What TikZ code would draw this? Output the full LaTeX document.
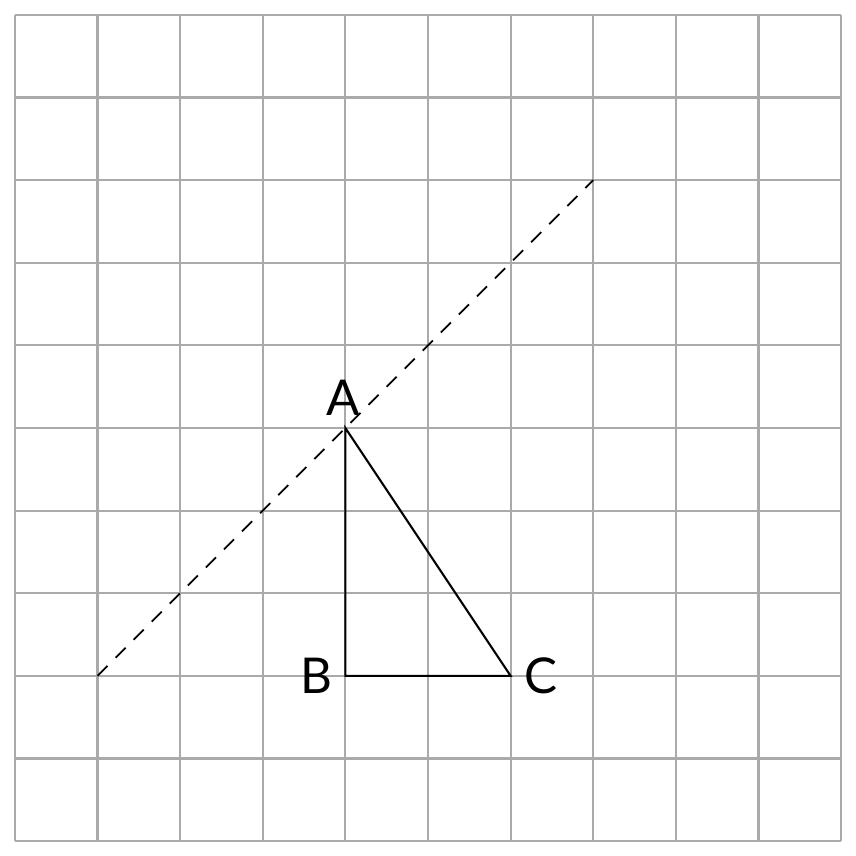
\documentclass[tikz,border=0pt]{standalone}
\usepackage{fontspec}
\setmainfont{Lato}
\usetikzlibrary{positioning}
\definecolor{gridgray}{RGB}{170,170,170}

\begin{document}
\begin{tikzpicture}[
    gridline/.style={draw=gridgray,line width=0.7pt},
    side/.style={draw=black,line width=0.7pt},
    guide/.style={draw=black,line width=0.65pt,dash pattern=on 4.9pt off 3.9pt},
    lbl/.style={font=\fontsize{17}{20}\selectfont,inner sep=1pt}
  ]
    \useasboundingbox (-0.18,-0.18) rectangle (10.18,10.18);
    \draw[gridline] (0,0) grid (10,10);
    % points
    \coordinate (A) at (4,5);
    \coordinate (B) at (4,2);
    \coordinate (C) at (6,2);
    \coordinate (P) at (1,2);
    \coordinate (Q) at (7,8);
    % dashed line through A
    \draw[guide] (P) -- (Q);
    % triangle
    \draw[side] (A) -- (B) -- (C) -- cycle;
    \node[lbl] (labA) at (3.97,5.36) {A};
    \node[lbl,left=0.12 of B] (labB) {B};
    \node[lbl,right=0.12 of C] (labC) {C};
  \end{tikzpicture}
\end{document}
